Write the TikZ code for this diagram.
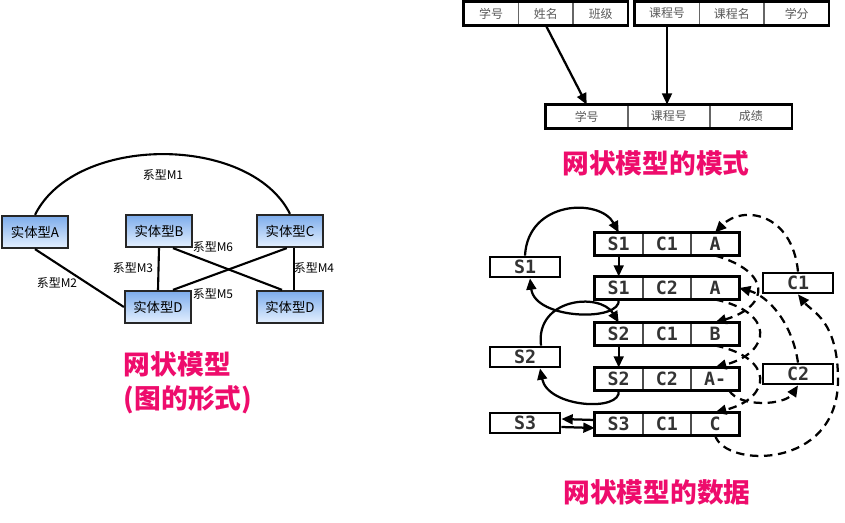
\documentclass[tikz,border=0pt]{standalone}
\usepackage{fontspec}
\setmainfont{Noto Sans CJK SC}
\newfontfamily\datafont{DejaVu Sans Mono}
\usepackage{tikz}
\usetikzlibrary{positioning, arrows.meta}
\definecolor{capred}{RGB}{238,12,108}
\definecolor{boxtop}{RGB}{125,172,235}
\definecolor{boxbot}{RGB}{228,240,255}

\begin{document}
\begin{tikzpicture}[
    x=0.025cm, y=-0.025cm,
    node_ent/.style={draw=black!85, line width=1.6pt, minimum width=1.65cm, minimum height=0.8cm, inner sep=0pt, top color=boxtop, bottom color=boxbot, font=\fontsize{9.5}{11}\selectfont},
    node_rel/.style={font=\fontsize{8.5}{10}\selectfont},
    node_cap/.style={text=capred, align=left, font=\fontsize{19}{24}\selectfont\bfseries},
    node_fld/.style={draw=black!60, line width=0.6pt, minimum height=0.575cm, inner sep=0pt, text=black!65, font=\fontsize{8.5}{10}\selectfont},
    node_cell/.style={draw=black!70, line width=0.7pt, minimum width=1.18cm, minimum height=0.55cm, inner sep=0pt, text=black!80, font=\datafont\bfseries\fontsize{13}{14}\selectfont},
    node_own/.style={draw=black, line width=2pt, minimum width=1.75cm, minimum height=0.5cm, inner sep=0pt, text=black!80, font=\datafont\bfseries\fontsize{13}{14}\selectfont},
    edge_rel/.style={line width=1.5pt},
    edge_ptr/.style={-{Triangle[length=8pt,width=7pt]}, line width=1.6pt},
    edge_dash/.style={edge_ptr, dash pattern=on 6pt off 4pt},
    node distance=0pt
  ]
  \useasboundingbox (0,0) rectangle (845,523);

  \node[node_ent] (ea) at (35,232) {实体型A};
  \node[node_ent] (eb) at (159,231) {实体型B};
  \node[node_ent] (ec) at (290,231) {实体型C};
  \node[node_ent] (ed1) at (158,307) {实体型D};
  \node[node_ent] (ed2) at (290,307) {实体型D};

  \draw[edge_rel] (ea.north) .. controls (75,134) and (250,134) .. (ec.north);
  \draw[edge_rel] (ea.south) -- (ed1.west);
  \draw[edge_rel] (eb.south) -- (ed1.north);
  \draw[edge_rel] ([xshift=0.1cm]ec.south) -- ([xshift=0.1cm]ed2.north);
  \draw[edge_rel] ([xshift=0.35cm]eb.south) -- ([xshift=-0.2cm]ed2.north);
  \draw[edge_rel] ([xshift=-0.08cm]ec.south) -- ([xshift=0.375cm]ed1.north);

  \node[node_rel] (m1) at (163,175) {系型M1};
  \node[node_rel] (m2) at (57,283) {系型M2};
  \node[node_rel] (m3) at (133,268) {系型M3};
  \node[node_rel] (m4) at (314,268) {系型M4};
  \node[node_rel] (m5) at (213,294) {系型M5};
  \node[node_rel] (m6) at (213,247) {系型M6};

  \node[node_cap, anchor=west] (cap1) at (119,383) {网状模型\\(图的形式)};

  \node[node_fld, minimum width=1.35cm] (t1a) at (491,13.5) {学号};
  \node[node_fld, minimum width=1.35cm, right=of t1a] (t1b) {姓名};
  \node[node_fld, minimum width=1.35cm, right=of t1b] (t1c) {班级};
  \draw[line width=1.8pt] (t1a.north west) rectangle (t1c.south east);
  \node[node_fld, minimum width=1.6cm] (t2a) at (667,13.5) {课程号};
  \node[node_fld, minimum width=1.6cm, right=of t2a] (t2b) {课程名};
  \node[node_fld, minimum width=1.6cm, right=of t2b] (t2c) {学分};
  \draw[line width=1.8pt] (t2a.north west) rectangle (t2c.south east);
  \node[node_fld, minimum width=2.03cm] (t3a) at (586.7,116.5) {学号};
  \node[node_fld, minimum width=2.03cm, right=of t3a] (t3b) {课程号};
  \node[node_fld, minimum width=2.03cm, right=of t3b] (t3c) {成绩};
  \draw[line width=1.8pt] (t3a.north west) rectangle (t3c.south east);

  \draw[edge_ptr] (t1b.south) -- (t3a.north);
  \draw[edge_ptr] (t2a.south) -- (t2a.south |- t3b.north);

  \node[node_cap] (cap2) at (656,163) {网状模型的模式};

  \foreach \i/\y/\s/\c/\g in {1/244/S1/C1/A, 2/288/S1/C2/A, 3/334/S2/C1/B, 4/379/S2/C2/A-, 5/424/S3/C1/C} {
    \node[node_cell] (r\i s) at (618.7,\y) {\s};
    \node[node_cell, right=of r\i s] (r\i c) {\c};
    \node[node_cell, right=of r\i c] (r\i g) {\g};
    \draw[line width=1.9pt] (r\i s.north west) rectangle (r\i g.south east);
  }
  \node[node_own] (s1) at (525,267) {S1};
  \node[node_own] (s2) at (525,357) {S2};
  \node[node_own] (s3) at (525,423) {S3};
  \node[node_own] (c1) at (798,283) {C1};
  \node[node_own] (c2) at (798,374) {C2};

  \draw[edge_ptr] (s1.north) .. controls (528,200) and (600,198) .. (r1s.north);
  \draw[edge_ptr] (r1s.south) -- (r2s.north);
  \draw[edge_ptr] (r2s.south) .. controls (622,322) and (535,320) .. ([xshift=0.125cm]s1.south);
  \draw[edge_ptr] ([xshift=0.4cm]s2.north) .. controls (535,298) and (600,292) .. (r3s.north);
  \draw[edge_ptr] (r3s.south) -- (r4s.north);
  \draw[edge_ptr] (r4s.south) .. controls (622,412) and (548,408) .. ([xshift=0.375cm]s2.south);
  \draw[edge_ptr] ([yshift=0.1cm]r5s.west) -- ([yshift=0.1cm]s3.east);
  \draw[edge_ptr] ([yshift=-0.1cm]s3.east) -- ([yshift=-0.1cm]r5s.west);

  \draw[edge_dash] (c1.north) .. controls (792,212) and (742,205) .. (r1g.north);
  \draw[edge_dash] (r1g.south) .. controls (772,272) and (770,306) .. (r3g.north);
  \draw[edge_dash] (c2.north) .. controls (792,322) and (768,296) .. (r2g.east);
  \draw[edge_dash] (r2g.south) .. controls (775,312) and (772,352) .. (r4g.north);
  \draw[edge_dash] (r3g.south) .. controls (775,358) and (772,398) .. (r5g.north);
  \draw[edge_dash] ([xshift=0.35cm]r4g.south) .. controls (740,408) and (785,405) .. (c2.south);
  \draw[edge_dash] (r5g.south) .. controls (725,468) and (838,470) .. (838,380) .. controls (838,320) and (812,312) .. (c1.south);

  \node[node_cap] (cap3) at (657,492) {网状模型的数据};
\end{tikzpicture}
\end{document}
